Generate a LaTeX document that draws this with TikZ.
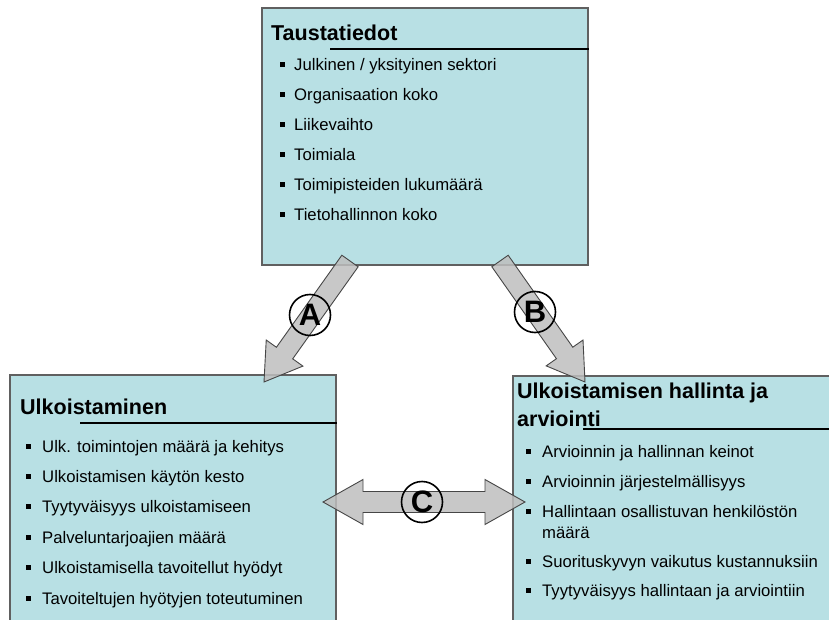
\documentclass[tikz,border=0pt]{standalone}
\usepackage{fontspec}
\setmainfont{Liberation Sans}
\usepackage{tikz}
\usetikzlibrary{calc,positioning}
\definecolor{boxcyan}{RGB}{184,224,228}
\definecolor{boxedge}{RGB}{96,96,96}
\definecolor{arrowgray}{RGB}{190,190,190}
\definecolor{arrowedge}{RGB}{70,70,70}

% single fat arrow from #1 to #2
\newcommand{\fatarrow}[2]{%
  \coordinate (fa-b) at ($(#2)!35.5pt!(#1)$);
  \filldraw[fatarrow] ($(#1)!10pt!90:(#2)$) -- ($(fa-b)!10pt!-90:(#1)$) -- ($(fa-b)!22.5pt!-90:(#1)$) -- (#2)
    -- ($(fa-b)!22.5pt!90:(#1)$) -- ($(fa-b)!10pt!90:(#1)$) -- ($(#1)!10pt!-90:(#2)$) -- cycle;
}
% double fat arrow between #1 and #2
\newcommand{\dblarrow}[2]{%
  \coordinate (da-a) at ($(#1)!40pt!(#2)$);
  \coordinate (da-b) at ($(#2)!40pt!(#1)$);
  \filldraw[fatarrow] (#1) -- ($(da-a)!22.5pt!90:(#2)$) -- ($(da-a)!10.5pt!90:(#2)$) -- ($(da-b)!10.5pt!-90:(#1)$)
    -- ($(da-b)!22.5pt!-90:(#1)$) -- (#2) -- ($(da-b)!22.5pt!90:(#1)$) -- ($(da-b)!10.5pt!90:(#1)$)
    -- ($(da-a)!10.5pt!-90:(#2)$) -- ($(da-a)!22.5pt!-90:(#2)$) -- cycle;
}

\begin{document}
\begin{tikzpicture}[x=1pt, y=-1pt,
    box/.style={rectangle, draw=boxedge, line width=1.3pt, fill=boxcyan, inner sep=0pt},
    title/.style={anchor=base west, inner sep=0pt, font=\fontsize{21.5}{29}\selectfont\bfseries},
    item/.style={anchor=base west, inner sep=0pt, font=\fontsize{16.7}{21}\selectfont},
    bullet/.style={rectangle, fill=black, minimum size=5pt, inner sep=0pt},
    headline/.style={line width=1.3pt, black},
    fatarrow/.style={fill=arrowgray, fill opacity=0.85, draw=arrowedge, line width=0.9pt, line join=miter},
    letter/.style={circle, draw=black, line width=1.6pt, minimum size=41pt, inner sep=0pt, font=\fontsize{31}{31}\selectfont\bfseries}
]
\useasboundingbox (0,0) rectangle (829,620);
\clip (0,0) rectangle (829,620);

% Boxes
\node[box, minimum width=326pt, minimum height=257pt] (tausta) at (425,136.5) {};
\node[box, minimum width=326pt, minimum height=260pt] (ulko) at (173,505) {};
\node[box, minimum width=340pt, minimum height=260pt] (hallinta) at (683,506) {};

% Taustatiedot
\node[title] (tausta-title) at (271,41) {Taustatiedot};
\draw[headline] (330,49) -- (tausta.east |- 0,49);
\foreach \t [count=\i] in {{Julkinen / yksityinen sektori}, Organisaation koko, Liikevaihto, Toimiala,
    Toimipisteiden lukumäärä, Tietohallinnon koko} {
  \node[bullet] (tausta-b\i) at (282,{65+30*(\i-1)}) {};
  \node[item] (tausta-t\i) at (294,{71+30*(\i-1)}) {\t};
}

% Ulkoistaminen
\node[title] (ulko-title) at (20,414) {Ulkoistaminen};
\draw[headline] (80,423) -- (ulko.east |- 0,423);
\foreach \t [count=\i] in {Ulk. toimintojen määrä ja kehitys, Ulkoistamisen käytön kesto, Tyytyväisyys ulkoistamiseen,
    Palveluntarjoajien määrä, Ulkoistamisella tavoitellut hyödyt, Tavoiteltujen hyötyjen toteutuminen} {
  \node[bullet] (ulko-b\i) at (28,{446+30.4*(\i-1)}) {};
  \node[item] (ulko-t\i) at (42,{452+30.4*(\i-1)}) {\t};
}

% Ulkoistamisen hallinta ja arviointi
\node[title] (hallinta-title1) at (517,398) {Ulkoistamisen hallinta ja};
\node[title] (hallinta-title2) at (517,426) {arviointi};
\draw[headline] (583,429) -- (829,429);
\foreach \t/\y [count=\i] in {Arvioinnin ja hallinnan keinot/457, Arvioinnin järjestelmällisyys/487,
    Hallintaan osallistuvan henkilöstön/517, Suorituskyvyn vaikutus kustannuksiin/567,
    Tyytyväisyys hallintaan ja arviointiin/596} {
  \node[bullet] (hallinta-b\i) at (528,\y-6) {};
  \node[item] (hallinta-t\i) at (542,\y) {\t};
}
\node[item] (hallinta-t3b) at (542,538) {määrä};

% Arrows
\coordinate (a-start) at (350,261);
\coordinate (a-tip) at (264,382);
\coordinate (b-start) at (500,261);
\coordinate (b-tip) at (585,382);
\coordinate (c-left) at (323,502);
\coordinate (c-right) at (525,502);
\fatarrow{a-start}{a-tip}
\fatarrow{b-start}{b-tip}
\dblarrow{c-left}{c-right}

% Labels
\node[letter] (label-a) at (310,315) {A};
\node[letter] (label-b) at (535,312) {B};
\node[letter] (label-c) at (422,502) {C};

\end{tikzpicture}
\end{document}
